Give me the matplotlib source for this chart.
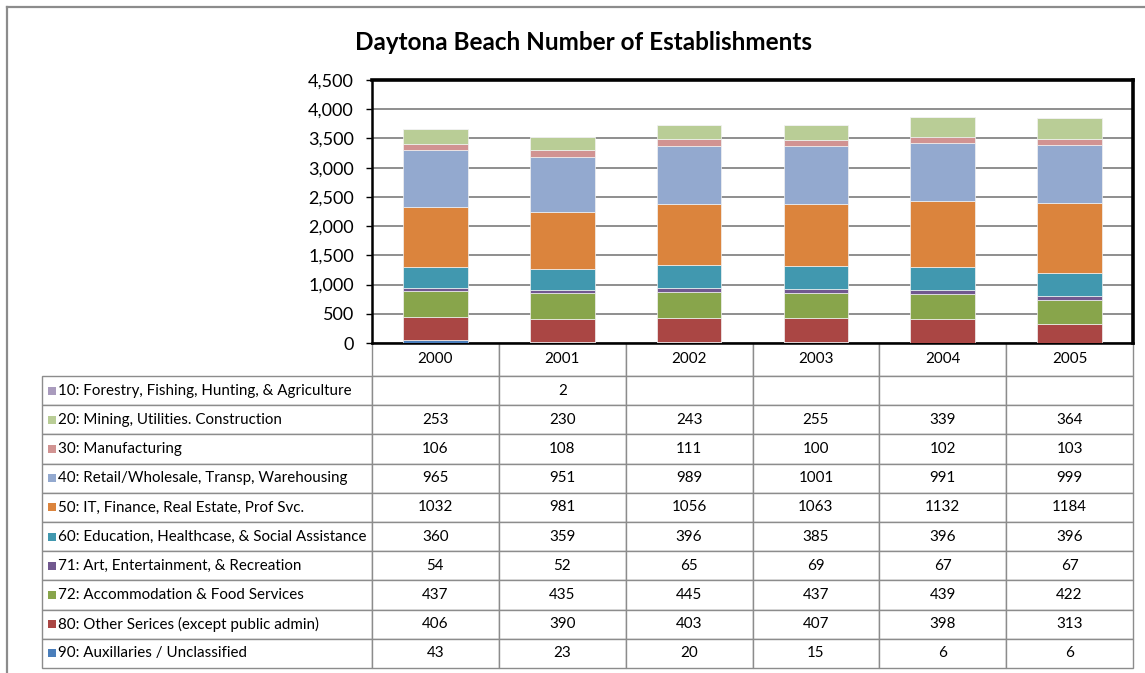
import numpy as np
import matplotlib.pyplot as plt
from matplotlib.patches import Rectangle
from matplotlib.lines import Line2D
from matplotlib.ticker import FuncFormatter

plt.rcParams['font.family'] = ['Lato', 'DejaVu Sans']

years = ['2000', '2001', '2002', '2003', '2004', '2005']

# series in table order (top row first)
labels = ['10: Forestry, Fishing, Hunting, & Agriculture',
          '20: Mining, Utilities. Construction',
          '30: Manufacturing',
          '40: Retail/Wholesale, Transp, Warehousing',
          '50: IT, Finance, Real Estate, Prof Svc.',
          '60: Education, Healthcase, & Social Assistance',
          '71: Art, Entertainment, & Recreation',
          '72: Accommodation & Food Services',
          '80: Other Serices (except public admin)',
          '90: Auxillaries / Unclassified']

forestry = [None, 2, None, None, None, None]
mining = [253, 230, 243, 255, 339, 364]
manuf = [106, 108, 111, 100, 102, 103]
retail = [965, 951, 989, 1001, 991, 999]
it_fin = [1032, 981, 1056, 1063, 1132, 1184]
educ = [360, 359, 396, 385, 396, 396]
art = [54, 52, 65, 69, 67, 67]
accom = [437, 435, 445, 437, 439, 422]
other = [406, 390, 403, 407, 398, 313]
aux = [43, 23, 20, 15, 6, 6]

series = [forestry, mining, manuf, retail, it_fin, educ, art, accom, other, aux]
colors = ['#A99BBD', '#B9CD96', '#D19392', '#93A9CF', '#DB843D',
          '#4198AF', '#71588F', '#88A54B', '#AA4644', '#4A7EBB']

W, H = 1145, 673
fig = plt.figure(figsize=(W / 100, H / 100), dpi=100)

# layout in pixels
px_l, px_r, px_t, px_b = 372, 1133, 80, 343
ax = fig.add_axes([px_l / W, 1 - px_b / H, (px_r - px_l) / W, (px_b - px_t) / H])

x = np.arange(len(years))
bottom = np.zeros(len(years))
# stack from the bottom series (90) upward
for vals, c in zip(series[::-1], colors[::-1]):
    v = np.array([0 if a is None else a for a in vals], dtype=float)
    ax.bar(x, v, 0.51, bottom=bottom, color=c, edgecolor='#f2f2f2', linewidth=0.5, zorder=3)
    bottom += v

ax.set_xlim(-0.5, 5.5)
ax.set_ylim(0, 4500)
ax.set_yticks(np.arange(0, 4501, 500))
ax.yaxis.set_major_formatter(FuncFormatter(lambda v, p: f'{int(v):,}'))
ax.tick_params(axis='y', labelsize=13, length=4, width=1, pad=9)
ax.set_xticks([])
ax.yaxis.grid(True, color='#868686', linewidth=1.3)
ax.set_axisbelow(True)
for s in ['top', 'right']:
    ax.spines[s].set_linewidth(2.6)
for s in ['left', 'bottom']:
    ax.spines[s].set_linewidth(1.8)

# data table below the plot
cell_text = [[''] + years]
for lab, vals in zip(labels, series):
    cell_text.append([lab] + ['' if a is None else str(a) for a in vals])

tab_l, tab_b = 42, 668
head_h, row_h = 33, 29.2
lab_w = px_r - px_l
col_w = lab_w / 6
label_w = px_l - tab_l

tbl = ax.table(cellText=cell_text, cellLoc='center',
               bbox=[(tab_l - px_l) / lab_w, -(tab_b - px_b) / (px_b - px_t),
                     (px_r - tab_l) / lab_w, (tab_b - px_b) / (px_b - px_t)])
tbl.auto_set_font_size(False)
tbl.set_fontsize(10.9)
for (r, c), cell in tbl.get_celld().items():
    cell.set_edgecolor('#8c8c8c')
    cell.set_linewidth(1.0)
    cell.set_width(label_w if c == 0 else col_w)
    cell.set_height(head_h if r == 0 else row_h)
    if c == 0:
        cell.get_text().set_ha('left')
        cell._loc = 'left'
        cell.PAD = 16 / label_w
    if r == 0 and c == 0:
        cell.set_edgecolor('none')

# legend swatches in the table
for i, c in enumerate(colors):
    yc = px_b + head_h + row_h * (i + 0.5)
    fig.add_artist(Rectangle((48 / W, 1 - (yc + 4) / H), 8 / W, 8 / H,
                             transform=fig.transFigure, facecolor=c, edgecolor='none'))

# outer chart frame
fig.add_artist(Line2D([7 / W, 7 / W], [0, 1 - 7 / H], color='#8c8c8c', lw=1.6))
fig.add_artist(Line2D([7 / W, 1], [1 - 7 / H, 1 - 7 / H], color='#8c8c8c', lw=1.6))

fig.text(583 / W, 1 - 43 / H, 'Daytona Beach Number of Establishments',
         ha='center', va='center', fontsize=17.5, fontweight='bold')

fig.savefig('out.png', dpi=100)
